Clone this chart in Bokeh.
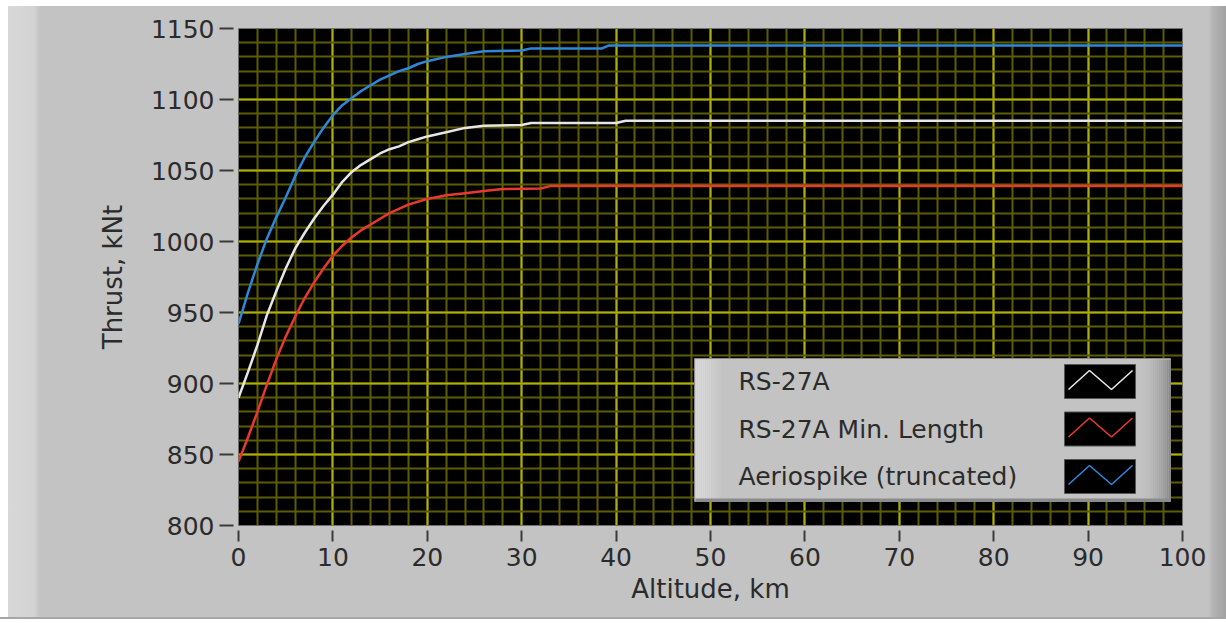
from bokeh.plotting import figure
from bokeh.models import Range1d, SingleIntervalTicker, Label
from bokeh.embed import file_html
from bokeh.resources import INLINE

# ---------------- data ----------------
alt_rs27a = [0, 1, 2, 3, 4, 5, 6, 7, 8, 9, 10, 11, 12, 13, 14, 15, 16, 17, 18, 19, 20,
             22, 24, 26, 30, 31, 40, 41, 100]
thrust_rs27a = [890, 908, 927, 948, 965, 981, 995, 1006, 1016, 1025, 1033, 1042, 1049, 1054,
                1058, 1062, 1065, 1067, 1070, 1072, 1074, 1077, 1080, 1081.5, 1082, 1083.5,
                1083.5, 1085, 1085]

alt_minlen = [0, 1, 2, 3, 4, 5, 6, 7, 8, 9, 10, 11, 12, 13, 14, 15, 16, 17, 18, 19, 20,
              22, 24, 26, 28, 32, 33, 100]
thrust_minlen = [845, 862, 880, 899, 917, 933, 947, 960, 971, 981, 990, 997, 1003, 1008,
                 1012, 1016, 1020, 1023, 1026, 1028, 1030, 1032.5, 1034, 1035.5, 1037,
                 1037.3, 1039, 1039]

alt_aero = [0, 1, 2, 3, 4, 5, 6, 7, 8, 9, 10, 11, 12, 13, 14, 15, 16, 17, 18, 19, 20,
            22, 24, 26, 30, 31, 38.5, 39.2, 100]
thrust_aero = [942, 964, 984, 1002, 1017, 1031, 1046, 1059, 1070, 1080, 1089, 1096, 1101,
               1106, 1110, 1114, 1117, 1120, 1122, 1125, 1127, 1130, 1132, 1134, 1134.5,
               1136, 1136, 1138, 1138]

series_names = ["RS-27A", "RS-27A Min. Length", "Aeriospike (truncated)"]
series_colors = ["#e6e6e6", "#e8392e", "#2f87d8"]

x_min, x_max = 0, 100
y_min, y_max = 800, 1150

# ---------------- layout constants (pixels) ----------------
W, H = 1226, 623
FL, FR, FT, FB = 238, 1182, 28, 525
FONT = "DejaVu Sans"
TXT = "#2b2b2b"

p = figure(width=W, height=H, x_range=Range1d(x_min, x_max), y_range=Range1d(y_min, y_max),
           output_backend="svg", toolbar_location=None,
           min_border_left=FL, min_border_right=W - FR, min_border_top=FT,
           min_border_bottom=H - FB)

p.background_fill_color = "black"
p.border_fill_color = None
p.outline_line_color = "#707070"
p.outline_line_width = 1
p.styles = {
    "background": (
        "linear-gradient(to bottom, #ffffff 0px, #ffffff 6px, rgba(0,0,0,0) 6px, "
        "rgba(0,0,0,0) 617px, #a6a6a6 617px, #a6a6a6 619px, #ffffff 619px), "
        "linear-gradient(to right, #ffffff 0px, #ffffff 8px, #d8d8d8 8px, #d3d3d3 34px, "
        "#c3c3c3 40px, #c3c3c3 1209px, #b3b3b3 1213px, #a2a2a2 1226px)"
    )
}

xt = SingleIntervalTicker(interval=10, num_minor_ticks=5)
yt = SingleIntervalTicker(interval=50, num_minor_ticks=5)
p.xaxis.ticker = xt
p.yaxis.ticker = yt
p.xgrid.ticker = xt
p.ygrid.ticker = yt

for g in (p.xgrid, p.ygrid):
    g.grid_line_color = "#b0b000"
    g.grid_line_width = 2
    g.minor_grid_line_color = "#5c5c00"
    g.minor_grid_line_width = 2

for ax in (p.xaxis, p.yaxis):
    ax.axis_line_color = None
    ax.minor_tick_line_color = None
    ax.major_tick_line_color = "#3a3a3a"
    ax.major_tick_line_width = 2
    ax.major_label_text_font = FONT
    ax.major_label_text_font_size = "25px"
    ax.major_label_text_color = TXT
    ax.axis_label_text_font = FONT
    ax.axis_label_text_font_size = "26px"
    ax.axis_label_text_font_style = "normal"
    ax.axis_label_text_color = TXT

p.xaxis.axis_label = "Altitude, km"
p.yaxis.axis_label = "Thrust, kNt"
p.xaxis.major_tick_in = -5
p.xaxis.major_tick_out = 16
p.xaxis.major_label_standoff = 6
p.xaxis.axis_label_standoff = 5
p.yaxis.major_tick_in = -5
p.yaxis.major_tick_out = 19
p.yaxis.major_label_standoff = 5
p.yaxis.axis_label_standoff = 20

# ---------------- curves ----------------
for xs, ys, c in ((alt_rs27a, thrust_rs27a, series_colors[0]),
                  (alt_minlen, thrust_minlen, series_colors[1]),
                  (alt_aero, thrust_aero, series_colors[2])):
    p.line(xs, ys, line_color=c, line_width=2.5)

# ---------------- legend (drawn manually, layout in pixels) ----------------
def dx(px):
    return x_min + (px - FL) / (FR - FL) * (x_max - x_min)

def dy(py):
    return y_max - (py - FT) / (FB - FT) * (y_max - y_min)

def grey(v):
    v = int(round(v))
    return "#%02x%02x%02x" % (v, v, v)

LL, LR, LT, LB = 694, 1170, 358, 501
p.quad(left=dx(LL), right=dx(LR), top=dy(LT), bottom=dy(LB),
       fill_color="#c3c3c3", line_color="#8a8a8a", line_width=1)
# left light band (smooth)
nb = 14
for i in range(nb):
    v = 0xd8 - (0xd8 - 0xc3) * (i / (nb - 1)) ** 1.5
    p.quad(left=dx(LL + 1 + i * 2), right=dx(LL + 1 + (i + 1) * 2), top=dy(LT + 1),
           bottom=dy(LB - 3), fill_color=grey(v), line_color=None)
# right shaded edge (smooth)
ne = 14
for i in range(ne):
    v = 0xc3 - (0xc3 - 0x8a) * ((i + 1) / ne) ** 1.6
    p.quad(left=dx(LR - 28 + i * 2), right=dx(LR - 28 + (i + 1) * 2), top=dy(LT + 1),
           bottom=dy(LB - 1), fill_color=grey(v), line_color=None)
# bottom shadow
p.quad(left=dx(LL + 1), right=dx(LR), top=dy(LB - 3), bottom=dy(LB),
       fill_color="#8c8c8c", line_color=None)

row_centers = [381, 428.5, 476]
for name, col, cy in zip(series_names, series_colors, row_centers):
    p.add_layout(Label(x=dx(738), y=dy(cy), text=name, text_baseline="middle",
                       text_align="left", text_font=FONT, text_font_size="25px",
                       text_color=TXT))
    p.quad(left=dx(1064), right=dx(1135), top=dy(cy - 17), bottom=dy(cy + 17),
           fill_color="black", line_color="#555555", line_width=1)
    zx = [dx(1068), dx(1089), dx(1111), dx(1132)]
    zy = [dy(cy + 8), dy(cy - 11), dy(cy + 8), dy(cy - 11)]
    p.line(zx, zy, line_color=col, line_width=1.6)

open("out.html", "w").write(file_html(p, INLINE))
